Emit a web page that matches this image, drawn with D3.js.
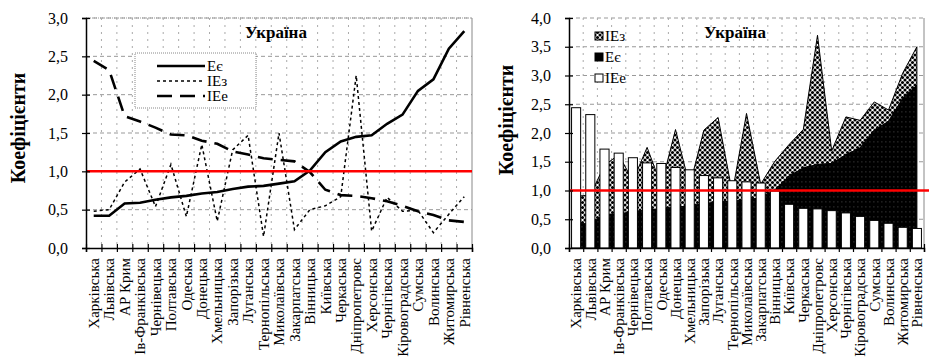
<!DOCTYPE html>
<html><head><meta charset="utf-8">
<script src="https://cdn.jsdelivr.net/npm/d3@7/dist/d3.min.js"></script>
<style>
body{margin:0;background:#fff;}
svg{display:block;}
</style></head>
<body><svg id="c" width="929" height="361"></svg>
<script>
const regions = ["Харківська","Львівська","АР Крим","Ів-Франківська","Чернівецька","Полтавська","Одеська","Донецька","Хмельницька","Запорізька","Луганська","Тернопільська","Миколаївська","Закарпатська","Вінницька","Київська","Черкаська","Дніпропетровс","Херсонська","Чернігівська","Кіровоградська","Сумська","Волинська","Житомирська","Рівненська"];
const Ee  = [0.42,0.42,0.58,0.59,0.63,0.66,0.68,0.71,0.73,0.77,0.80,0.81,0.84,0.87,1.01,1.25,1.39,1.45,1.47,1.62,1.74,2.05,2.20,2.60,2.83];
const IEz = [0.48,0.50,0.86,1.03,0.54,1.09,0.41,1.35,0.35,1.28,1.47,0.15,1.50,0.24,0.50,0.55,0.67,2.25,0.22,0.66,0.48,0.49,0.20,0.44,0.67];
const IEe = [2.44,2.32,1.72,1.65,1.57,1.48,1.47,1.40,1.36,1.26,1.22,1.17,1.15,1.13,0.99,0.76,0.69,0.68,0.65,0.61,0.55,0.48,0.43,0.36,0.34];
const leftTicks = [0,0.5,1,1.5,2,2.5,3];
const rightTicks = [0,0.5,1,1.5,2,2.5,3,3.5,4];
const title = "Україна";
const yTitle = "Коефіцієнти";
const names = {Ee:"Eє", IEz:"IEз", IEe:"IEе"};
const threshold = 1.0;
const FF = "Liberation Serif";

const svg = d3.select("#c");
svg.append("rect").attr("width",929).attr("height",361).attr("fill","#fff");
const defs = svg.append("defs");
const p1 = defs.append("pattern").attr("id","dots").attr("patternUnits","userSpaceOnUse").attr("width",5).attr("height",5);
p1.append("rect").attr("width",5).attr("height",5).attr("fill","#fff");
[[0,0],[2.5,2.5],[5,0],[0,5],[5,5]].forEach(([x,y])=>p1.append("circle").attr("cx",x).attr("cy",y).attr("r",1.55).attr("fill","#000"));
const p2 = defs.append("pattern").attr("id","dark").attr("patternUnits","userSpaceOnUse").attr("width",4).attr("height",5);
p2.append("rect").attr("width",4).attr("height",5).attr("fill","#000");
p2.append("rect").attr("x",1.5).attr("y",1.5).attr("width",0.8).attr("height",0.8).attr("fill","#777");

function txt(g, s, size, bold) {
  return g.append("text").attr("font-family",FF).attr("font-size",size).attr("font-weight",bold?"bold":"normal").attr("fill","#000").text(s);
}

function frame(g, x0, x1, yS, ticks) {
  const yTop = yS.range()[1], yBot = yS.range()[0];
  g.selectAll(".hg").data(ticks.filter(t=>t>0)).join("line")
    .attr("x1",x0).attr("x2",x1).attr("y1",d=>yS(d)).attr("y2",d=>yS(d))
    .attr("stroke","#999").attr("stroke-width",1).attr("stroke-dasharray","4,3");
  const n = regions.length, step = (x1-x0)/n;
  g.selectAll(".vg").data(d3.range(1,n)).join("line")
    .attr("x1",d=>x0+d*step).attr("x2",d=>x0+d*step).attr("y1",yTop).attr("y2",yBot)
    .attr("stroke","#aaa").attr("stroke-width",1).attr("stroke-dasharray","2,5");
  g.append("line").attr("x1",x1).attr("x2",x1).attr("y1",yTop).attr("y2",yBot).attr("stroke","#888");
}

function axes(g, x0, x1, yS, ticks, band) {
  const yBot = yS.range()[0];
  const n = regions.length;
  const ax = g.append("g").attr("transform",`translate(${x0},0)`)
    .call(d3.axisLeft(yS).tickValues(ticks).tickSize(4).tickPadding(14).tickFormat(d=>d3.format(".1f")(d).replace(".",",")));
  ax.attr("font-family",FF).attr("font-size",16);
  ax.select(".domain").attr("stroke","#000").attr("stroke-width",1.5);
  ax.selectAll(".tick line").attr("x2",-4).attr("x1",4).attr("stroke-width",1.2);
  ax.selectAll("text").attr("font-family",FF).attr("font-size",16);
  const lin = d3.scaleLinear().domain([0,n]).range([x0,x1]);
  const bx = g.append("g").attr("transform",`translate(0,${yBot})`)
    .call(d3.axisBottom(lin).tickValues(d3.range(0,n+1)).tickSize(4).tickFormat(""));
  bx.select(".domain").attr("stroke","#000").attr("stroke-width",1.5);
  bx.selectAll(".tick line").attr("y1",-4).attr("y2",4).attr("stroke-width",1.2);
  const lx = g.append("g").attr("transform",`translate(0,${yBot})`)
    .call(d3.axisBottom(band).tickSize(0).tickPadding(0));
  lx.attr("font-family",FF).attr("font-size",15);
  lx.select(".domain").remove();
  lx.selectAll("text").attr("font-family",FF).attr("font-size",15)
    .attr("transform","rotate(-90)").attr("text-anchor","end")
    .attr("x",-10).attr("y",0).attr("dy","0.35em");
}

// ===== LEFT CHART =====
{
  const x0=86, x1=472, yTop=18, yBot=248;
  const g = svg.append("g");
  const band = d3.scaleBand().domain(regions).range([x0,x1]);
  const y = d3.scaleLinear().domain([0,3]).range([yBot,yTop]);
  frame(g,x0,x1,y,leftTicks);
  g.append("line").attr("x1",x0).attr("x2",x1).attr("y1",yTop).attr("y2",yTop).attr("stroke","#999").attr("stroke-dasharray","1,1");
  const cx = i=>band(regions[i])+band.bandwidth()/2;
  const line = arr => d3.line().x((d,i)=>cx(i)).y(d=>y(d))(arr);
  g.append("path").attr("d",line(IEz)).attr("fill","none").attr("stroke","#000").attr("stroke-width",1.5).attr("stroke-dasharray","3,3");
  g.append("path").attr("d",line(IEe)).attr("fill","none").attr("stroke","#000").attr("stroke-width",2.6).attr("stroke-dasharray","15,8");
  g.append("path").attr("d",line(Ee)).attr("fill","none").attr("stroke","#000").attr("stroke-width",2.6);
  g.append("line").attr("x1",x0).attr("x2",x1).attr("y1",y(threshold)).attr("y2",y(threshold)).attr("stroke","#ff0000").attr("stroke-width",2.5);
  axes(g,x0,x1,y,leftTicks,band);
  txt(g,title,17,true).attr("x",276).attr("y",38).attr("text-anchor","middle");
  txt(g,yTitle,20,true).attr("transform",`translate(25,128) rotate(-90)`).attr("text-anchor","middle");
  const lg = g.append("g");
  lg.append("rect").attr("x",135).attr("y",53).attr("width",121).attr("height",55).attr("fill","#fff").attr("stroke","#888").attr("stroke-dasharray","1,1");
  const items = [["Ee",null,2.6],["IEz","3,3",1.5],["IEe","15,8",2.6]];
  items.forEach(([k,da,w],i)=>{
    const yy = 66 + i*15;
    lg.append("line").attr("x1",157).attr("x2",205).attr("y1",yy).attr("y2",yy).attr("stroke","#000").attr("stroke-width",w).attr("stroke-dasharray",da);
    txt(lg,names[k],15,false).attr("x",207).attr("y",yy).attr("dy","0.35em");
  });
}

// ===== RIGHT CHART =====
{
  const x0=569, x1=924, yTop=18, yBot=248;
  const g = svg.append("g");
  const band = d3.scaleBand().domain(regions).range([x0,x1]).paddingInner(0.36).paddingOuter(0.18);
  const cat = d3.scaleBand().domain(regions).range([x0,x1]);
  const y = d3.scaleLinear().domain([0,4]).range([yBot,yTop]);
  frame(g,x0,x1,y,rightTicks);
  const cx = i=>cat(regions[i])+cat.bandwidth()/2;
  const stack = regions.map((r,i)=>({i, e:Ee[i], z:Ee[i]+IEz[i]}));
  g.append("path").datum(stack).attr("d",d3.area().x(d=>cx(d.i)).y0(d=>y(d.e)).y1(d=>y(d.z)))
    .attr("fill","url(#dots)").attr("stroke","#000").attr("stroke-width",1);
  g.append("path").datum(stack).attr("d",d3.area().x(d=>cx(d.i)).y0(y(0)).y1(d=>y(d.e)))
    .attr("fill","url(#dark)").attr("stroke","#000").attr("stroke-width",1);
  g.selectAll(".bar").data(IEe).join("rect")
    .attr("x",(d,i)=>band(regions[i])).attr("width",band.bandwidth())
    .attr("y",d=>y(d)).attr("height",d=>y(0)-y(d))
    .attr("fill","#fff").attr("stroke","#000").attr("stroke-width",1);
  g.append("line").attr("x1",x0).attr("x2",929).attr("y1",y(threshold)).attr("y2",y(threshold)).attr("stroke","#ff0000").attr("stroke-width",2.5);
  axes(g,x0,x1,y,rightTicks,cat);
  txt(g,title,17,true).attr("x",735).attr("y",38).attr("text-anchor","middle");
  txt(g,yTitle,20,true).attr("transform",`translate(513,120) rotate(-90)`).attr("text-anchor","middle");
  const items = [["IEz","url(#dots)"],["Ee","#000"],["IEe","#fff"]];
  items.forEach(([k,f],i)=>{
    const yy = 36 + i*21;
    g.append("rect").attr("x",595).attr("y",yy-4).attr("width",8).attr("height",8).attr("fill",f).attr("stroke","#000").attr("stroke-width",1);
    txt(g,names[k],15,false).attr("x",605).attr("y",yy).attr("dy","0.35em");
  });
}
</script></body></html>
